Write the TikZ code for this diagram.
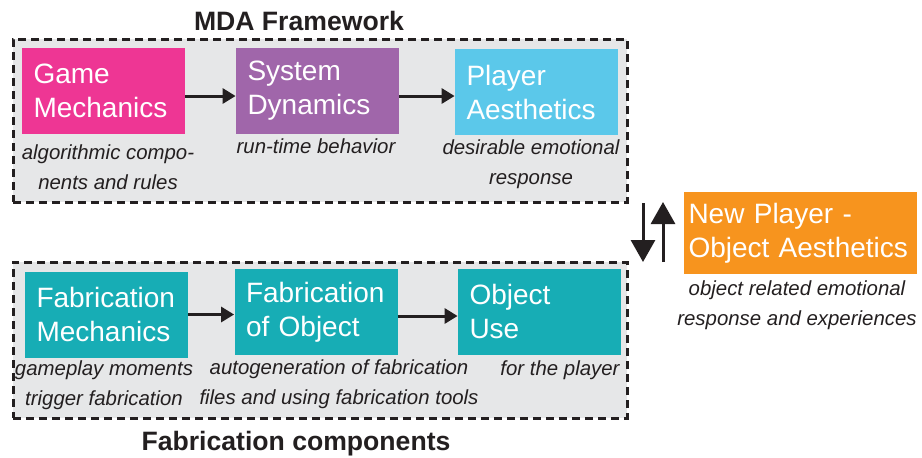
\documentclass[tikz,border=0pt]{standalone}
\usepackage{fontspec}
\setsansfont{Liberation Sans}
\usepackage{tikz}
\usetikzlibrary{arrows.meta}

\definecolor{GameMagenta}{HTML}{EE3694}
\definecolor{DynPurple}{HTML}{A066AA}
\definecolor{AesthCyan}{HTML}{5BC8EA}
\definecolor{FabTeal}{HTML}{17ADB5}
\definecolor{NewOrange}{HTML}{F7941E}
\definecolor{GroupGray}{HTML}{E6E7E8}
\definecolor{TextGray}{HTML}{231F20}

\begin{document}
\begin{tikzpicture}[%
		x=0.5pt, y=-0.5pt,
		font=\sffamily,
		>={Triangle[length=6.5pt,width=7.5pt]},
		group/.style={draw=TextGray, fill=GroupGray, line width=1.5pt, dash pattern=on 4pt off 2.5pt, minimum width=307pt, inner sep=0pt},
		block/.style={fill=#1, text=white, font=\fontsize{14}{17}\selectfont\sffamily, minimum width=81.5pt, minimum height=43pt, text width=70pt, align=left, inner sep=0pt},
		caption/.style={text=TextGray, font=\fontsize{10.2}{15}\selectfont\sffamily\itshape, align=center, anchor=north, inner sep=0pt},
		heading/.style={text=TextGray, font=\fontsize{13.3}{15}\selectfont\sffamily\bfseries, anchor=base, inner sep=0pt},
		flow/.style={->, draw=TextGray, line width=1.5pt},
		swap/.style={-{Triangle[length=11pt,width=12pt]}, draw=TextGray, line width=1.5pt}
		]

		\useasboundingbox (0,0) rectangle (922,457);

		%% Gruppen
		\node[group, minimum height=81.5pt] (mda) at (320,120.5) {};
		\node[group, minimum height=78pt] (fab) at (320,340) {};

		\node[heading] (mda title) at (299,30) {MDA Framework};
		\node[heading] (fab title) at (296,450) {Fabrication components};

		%% MDA
		\node[block=GameMagenta] (game) at (103.5,91) {Game\\Mechanics};
		\node[block=DynPurple] (dyn) at (317.5,91) {System\\Dynamics};
		\node[block=AesthCyan] (aesth) at (536.5,92) {Player\\Aesthetics};

		\node[caption] (game cap) at (108,144.5) {algorithmic compo-\\nents and rules};
		\node[caption] (dyn cap) at (316,138.5) {run-time behavior};
		\node[caption] (aesth cap) at (531,139.5) {desirable emotional\\response};

		\draw[flow] ([yshift=-2.5pt]game.east) -- ([yshift=-2.5pt]game.east -| dyn.west);
		\draw[flow] ([yshift=-2.5pt]dyn.east) -- ([yshift=-2.5pt]dyn.east -| aesth.west);

		%% Fabrication
		\node[block=FabTeal] (fabmech) at (106.5,314.5) {Fabrication\\Mechanics};
		\node[block=FabTeal] (fabobj) at (316,312) {Fabrication\\of Object};
		\node[block=FabTeal] (objuse) at (539.5,311.5) {Object\\Use};

		\node[caption] (fabmech cap) at (104,360.5) {gameplay moments\\trigger fabrication};
		\node[caption] (fabobj cap) at (339,359.5) {autogeneration of fabrication\\files and using fabrication tools};
		\node[caption] (objuse cap) at (560,360.5) {for the player};

		\draw[flow] (fabmech.east) -- (fabmech.east -| fabobj.west);
		\draw[flow] ([yshift=-2pt]fabobj.east) -- ([yshift=-2pt]fabobj.east -| objuse.west);

		%% Neue Aesthetik
		\node[block=NewOrange, minimum width=116.5pt, minimum height=41pt, text width=112pt] (newaesth) at (800.5,233) {New Player -\\Object Aesthetics};
		\node[caption] (newaesth cap) at (797,280.5) {object related emotional\\response and experiences};

		\coordinate (down start) at (643,203);
		\coordinate (down end) at (643,262);
		\coordinate (up start) at (663,262);
		\coordinate (up end) at (663,202);
		\draw[swap] (down start) -- (down end);
		\draw[swap] (up start) -- (up end);
	\end{tikzpicture}
\end{document}
